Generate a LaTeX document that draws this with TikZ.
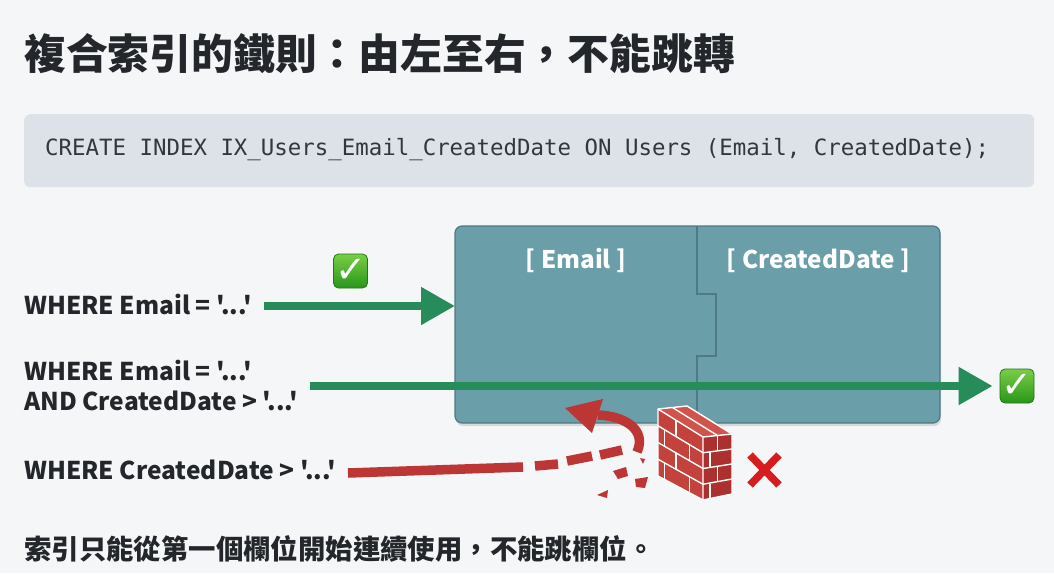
\documentclass[tikz,border=0pt]{standalone}
\usepackage{fontspec}
\setmainfont{Noto Sans CJK TC}[Ligatures=TeXOff]
\newfontfamily\codefont{DejaVu Sans Mono}
\newfontfamily\symfont{DejaVu Sans}
\usetikzlibrary{arrows.meta,calc}
\definecolor{bgc}{RGB}{245,246,247}
\definecolor{ink}{RGB}{35,38,42}
\definecolor{codebg}{RGB}{221,226,233}
\definecolor{codeink}{RGB}{50,55,62}
\definecolor{tealc}{RGB}{106,158,168}
\definecolor{tealdk}{RGB}{78,122,132}
\definecolor{grn}{RGB}{38,140,90}
\definecolor{redc}{RGB}{188,54,54}
\definecolor{brick}{RGB}{196,66,60}
\definecolor{brickdk}{RGB}{172,48,46}
\definecolor{bricklt}{RGB}{208,84,76}
\definecolor{xred}{RGB}{214,28,28}
\definecolor{chktop}{RGB}{122,206,72}
\definecolor{chkbot}{RGB}{40,150,25}
\definecolor{chkdk}{RGB}{34,118,22}
\tikzset{
  lbl/.style={font=\bfseries\fontsize{24.5}{30}\selectfont, text=ink, inner sep=0pt, anchor=west, align=left},
  collbl/.style={font=\bfseries\fontsize{24.3}{30}\selectfont, text=white, inner sep=0pt},
  colarea/.style={inner sep=0pt, anchor=north west, minimum height=197pt},
  garrow/.style={draw=grn, line width=8pt, -{Triangle[length=34pt,width=36pt]}},
  rline/.style={draw=redc, line width=9.5pt},
  chkbox/.style={minimum size=34pt, inner sep=0pt, rounded corners=5pt, top color=chktop, bottom color=chkbot, draw=chkdk, line width=0.8pt, text=white, font=\symfont\bfseries\fontsize{37}{37}\selectfont},
  mortar/.style={draw=white, line width=1.4pt},
}
\begin{document}
\begin{tikzpicture}[x=1pt,y=-1pt]
\useasboundingbox (0,0) rectangle (1054,573);
\fill[bgc] (0,0) rectangle (1054,573);
% title
\node[font=\bfseries\fontsize{41.8}{46}\selectfont, text=ink, inner sep=0pt, anchor=west] (title) at (24,54) {複合索引的鐵則：由左至右，不能跳轉};
% code box
\node[fill=codebg, rounded corners=6pt, minimum width=1010pt, minimum height=73pt, inner sep=0pt, anchor=north west] (codebox) at (24,114) {};
\node[font=\codefont\fontsize{22.4}{26}\selectfont, text=codeink, inner sep=0pt, anchor=west] (code) at (45,150) {CREATE INDEX IX\_Users\_Email\_CreatedDate ON Users (Email, CreatedDate);};
% index block
\fill[black, opacity=0.12, rounded corners=7pt] (456,229) rectangle (941,426);
\path[fill=tealc, draw=tealdk, line width=1.2pt, rounded corners=7pt] (455,226) rectangle (940,423);
\draw[tealdk, line width=1.2pt] (697,226) -- (697,294) -- (716,294) -- (716,356) -- (697,356) -- (697,423);
\node[colarea, minimum width=242pt] (email) at (455,226) {};
\node[colarea, minimum width=243pt] (cdate) at (697,226) {};
\node[collbl] (emailL) at (576,261) {[ Email ]};
\node[collbl] (cdateL) at (818.5,261) {[ CreatedDate ]};
% labels
\node[lbl] (l1) at (24,304) {WHERE Email = '...'};
\node[lbl] (l2) at (24,385) {WHERE Email = '...'\\AND CreatedDate > '...'};
\node[lbl] (l3) at (24,470) {WHERE CreatedDate > '...'};
% check marks
\node[chkbox] (chk1) at (350.5,271) {✓};
\node[chkbox] (chk2) at (1017,386) {✓};
% green arrows
\draw[garrow] ([xshift=12pt]l1.east |- 0,306) -- (email.west |- 0,306);
\draw[garrow] ([xshift=11pt]l2.east |- 0,386) -- ([xshift=-7pt]chk2.west);
% red broken path
\coordinate (rbreak) at (523,467);
\draw[rline] ([xshift=12pt]l3.east |- 0,473) -- (rbreak);
\draw[rline] (535,466) -- (558,464);
\draw[rline] (567,461) -- (592,456);
\draw[rline] (600,455) -- (622,450);
\draw[rline] (637,452) .. controls (647,430) and (625,416) .. (598,415);
\fill[redc] (565,408) -- (603,399) -- (592,433) -- cycle;
% shards
\fill[redc] (640,458) -- (645,459) -- (643,464) -- cycle;
\fill[redc] (613,471) -- (626,467) -- (628,476) -- (618,479) -- cycle;
\fill[redc] (635,479) -- (648,477) -- (645,488) -- (636,487) -- cycle;
\fill[redc] (597,495) -- (608,490) -- (607,498) -- cycle;
% brick wall
\fill[brick] (658,409) -- (703,437) -- (703,500) -- (658,476) -- cycle;
\fill[brickdk] (703,437) -- (732,434) -- (732,494) -- (703,500) -- cycle;
\fill[bricklt] (658,409) -- (687,406) -- (732,434) -- (703,437) -- cycle;
\draw[mortar, line join=round] (658,409) -- (687,406) -- (732,434) -- (732,494) -- (703,500) -- (658,476) -- cycle;
\draw[mortar] (658,409) -- (703,437) -- (703,500);
\draw[mortar] (703,437) -- (732,434);
\draw[mortar] (672.5,407.5) -- (717.5,435.5);
\draw[mortar] (658,425.75) -- (703,452.75) (658,442.5) -- (703,468.5) (658,459.25) -- (703,484.25);
\draw[mortar] (676,420.2) -- (676,436.55) (664.75,429.8) -- (664.75,446.4) (689.5,444.65) -- (689.5,460.7)
  (676,452.9) -- (676,469.25) (664.75,463) -- (664.75,479.6) (689.5,476.75) -- (689.5,492.8);
\draw[mortar] (703,452.75) -- (732,449) (703,468.5) -- (732,464) (703,484.25) -- (732,479);
\draw[mortar] (717.5,435.5) -- (717.5,450.9) (710,452) -- (710,467.5) (717.5,466.25) -- (717.5,481.6) (710,483.5) -- (710,499);
% red X
\draw[xred, line width=7.5pt] (750,455) -- (779,485) (779,455) -- (750,485);
% bottom note
\node[font=\bfseries\fontsize{27.4}{30}\selectfont, text=ink, inner sep=0pt, anchor=west] (note) at (24,549) {索引只能從第一個欄位開始連續使用，不能跳欄位。};
\end{tikzpicture}
\end{document}
